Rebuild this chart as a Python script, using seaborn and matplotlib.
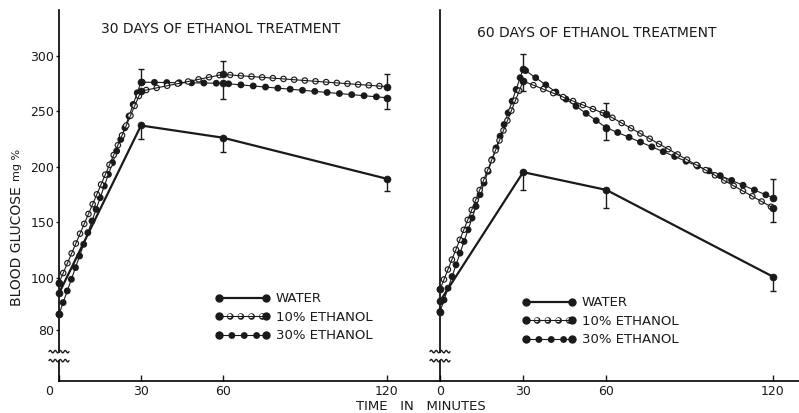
import numpy as np
import pandas as pd
import matplotlib
matplotlib.use("Agg")
import matplotlib.pyplot as plt
import matplotlib.transforms as mtransforms
from matplotlib.lines import Line2D
from matplotlib.patches import Rectangle
from matplotlib.legend_handler import HandlerTuple
import seaborn as sns

# ---------------- data ----------------
minutes = [0, 30, 60, 120]
x_tick_labels = ["0", "30", "60", "120"]
y_ticks = [80, 100, 150, 200, 250, 300]
groups = ["WATER", "10% ETHANOL", "30% ETHANOL"]
panel_titles = ["30 DAYS OF ETHANOL TREATMENT", "60 DAYS OF ETHANOL TREATMENT"]

# 30 days of treatment
water_30d = [94, 237, 226, 189]
eth10_30d = [98, 268, 283, 272]
eth30_30d = [86, 276, 275, 262]
water_30d_lo = [0, 12, 13, 11]
water_30d_up = [0, 0, 0, 0]
eth10_30d_lo = [0, 0, 0, 0]
eth10_30d_up = [0, 0, 12, 11]
eth30_30d_lo = [0, 0, 14, 10]
eth30_30d_up = [0, 12, 0, 0]

# 60 days of treatment
water_60d = [91, 195, 179, 101]
eth10_60d = [95.5, 277, 247, 163]
eth30_60d = [87, 288, 235, 172]
water_60d_lo = [0, 16, 16, 6]
water_60d_up = [0, 0, 0, 0]
eth10_60d_lo = [0, 9, 0, 13]
eth10_60d_up = [0, 0, 10, 0]
eth30_60d_lo = [0, 0, 11, 0]
eth30_60d_up = [0, 13, 0, 17]

# ---------------- style ----------------
sns.set_theme(style="white")
plt.rcParams["font.family"] = ["DejaVu Sans"]
plt.rcParams["axes.edgecolor"] = "black"
plt.rcParams["axes.linewidth"] = 1.2

K_STRETCH = 2.356  # axis below 100 is drawn stretched (broken axis)


def fwd(y):
    y = np.asarray(y, dtype=float)
    return np.where(y >= 100, y, 100 - (100 - y) * K_STRETCH)


def inv(u):
    u = np.asarray(u, dtype=float)
    return np.where(u >= 100, u, 100 - (100 - u) / K_STRETCH)


RING_LW, RING_PERIOD = 4.8, 7.7
RING_IN_LW = 3.1
TRI_LW, TRI_PERIOD = 5.0, 8.9
DOT = 0.01


def dots(lw, period):
    return (0, (DOT, period / lw - DOT))


W, H = 799, 413
fig = plt.figure(figsize=(W / 100, H / 100), dpi=100)
axL = fig.add_axes([59 / W, 32 / H, 381 / W, 371 / H])
axR = fig.add_axes([440 / W, 32 / H, 359 / W, 371 / H])


def draw_panel(ax, water, e10, e30, errs):
    df = pd.DataFrame({
        "minutes": minutes * 3,
        "glucose": water + e10 + e30,
        "group": np.repeat(groups, len(minutes)),
    })
    sub = {g: df[df["group"] == g] for g in groups}
    base = dict(x="minutes", y="glucose", ax=ax, errorbar=None,
                legend=False, clip_on=False, sort=False)
    # 30% ethanol: chain of filled symbols
    sns.lineplot(data=sub[groups[2]], color="k", lw=0.8, **base)
    sns.lineplot(data=sub[groups[2]], color="k", lw=TRI_LW,
                 linestyle=dots(TRI_LW, TRI_PERIOD), dash_capstyle="round", **base)
    # 10% ethanol: chain of open circles
    sns.lineplot(data=sub[groups[1]], color="k", lw=RING_LW,
                 linestyle=dots(RING_LW, RING_PERIOD), dash_capstyle="round", **base)
    sns.lineplot(data=sub[groups[1]], color="w", lw=RING_IN_LW,
                 linestyle=dots(RING_IN_LW, RING_PERIOD), dash_capstyle="round", **base)
    sns.lineplot(data=sub[groups[1]], color="k", lw=0.8, **base)
    # water: plain line
    sns.lineplot(data=sub[groups[0]], color="k", lw=1.6, **base)
    # error bars (one-sided)
    for vals, (lo, up) in zip([water, e10, e30], errs):
        lo = np.asarray(lo, float)
        up = np.asarray(up, float)
        m = (lo > 0) | (up > 0)
        ax.errorbar(np.asarray(minutes)[m], np.asarray(vals, float)[m],
                    yerr=[lo[m], up[m]], fmt="none", ecolor="k",
                    elinewidth=1.0, capsize=2.2, capthick=1.0, zorder=4,
                    clip_on=False)
    # filled data points
    sns.scatterplot(data=df, x="minutes", y="glucose", color="k",
                    edgecolor="k", linewidth=0.4, s=26, ax=ax, legend=False,
                    zorder=6, clip_on=False)
    ax.set_xlabel("")
    ax.set_ylabel("")


draw_panel(axL, water_30d, eth10_30d, eth30_30d,
           [(water_30d_lo, water_30d_up), (eth10_30d_lo, eth10_30d_up),
            (eth30_30d_lo, eth30_30d_up)])
draw_panel(axR, water_60d, eth10_60d, eth30_60d,
           [(water_60d_lo, water_60d_up), (eth10_60d_lo, eth10_60d_up),
            (eth30_60d_lo, eth30_60d_up)])

for ax, xmax in [(axL, 139.4), (axR, 129.5)]:
    ax.set_yscale("function", functions=(fwd, inv))
    ax.set_ylim(60.5, 341)
    ax.set_xlim(0, xmax)
    ax.set_xticks(minutes)
    ax.set_xticklabels(x_tick_labels)
    for s in ["top", "right"]:
        ax.spines[s].set_visible(False)
    ax.tick_params(axis="x", direction="in", length=4, width=1, labelsize=9,
                   pad=3, colors="k", bottom=True)
    ax.patch.set_alpha(0)

axL.set_yticks(y_ticks)
axL.set_yticklabels([str(v) for v in y_ticks])
axL.yaxis.set_minor_locator(matplotlib.ticker.NullLocator())
axL.tick_params(axis="y", direction="out", length=2.5, width=1, labelsize=9,
                pad=1, colors="k", left=True)
axR.set_yticks([])
axR.yaxis.set_minor_locator(matplotlib.ticker.NullLocator())
axR.tick_params(axis="y", left=False, labelleft=False)

# shift the left panel's "0" label left, as in the original
lbl0 = axL.xaxis.get_major_ticks()[0].label1
lbl0.set_transform(lbl0.get_transform() +
                   mtransforms.ScaledTranslation(-9.5 / 100, 0, fig.dpi_scale_trans))

# axis break marks
BREAK_Y = 70
for ax in (axL, axR):
    blend = mtransforms.blended_transform_factory(ax.transAxes, ax.transData)
    trans = fig.dpi_scale_trans + mtransforms.ScaledTranslation(0, BREAK_Y, blend)
    ax.add_patch(Rectangle((-0.025, -0.035), 0.05, 0.07, transform=trans,
                           facecolor="w", edgecolor="none", zorder=7, clip_on=False))
    xs = np.linspace(-0.10, 0.10, 80)
    for dy in (0.045, -0.045):
        ax.plot(xs, dy + 0.012 * np.sin(2 * np.pi * xs / 0.05), color="k",
                lw=1.0, transform=trans, clip_on=False, zorder=8)

# legends
h_water = Line2D([], [], color="k", lw=1.6, marker="o", ms=5.0, mec="k")
h_10 = (Line2D([], [], color="k", lw=RING_LW, linestyle=dots(RING_LW, RING_PERIOD),
               dash_capstyle="round"),
        Line2D([], [], color="w", lw=RING_IN_LW, linestyle=dots(RING_IN_LW, RING_PERIOD),
               dash_capstyle="round"),
        Line2D([], [], color="k", lw=0.8, marker="o", ms=5.0, mec="k"))
h_30 = (Line2D([], [], color="k", lw=TRI_LW, linestyle=dots(TRI_LW, TRI_PERIOD),
               dash_capstyle="round"),
        Line2D([], [], color="k", lw=0.8, marker="o", ms=5.0, mec="k"))
for ax, anchor in [(axL, (0.4108, 0.239)), (axR, (0.2284, 0.2283))]:
    leg = ax.legend([h_water, h_10, h_30], groups,
                    handler_map={tuple: HandlerTuple(ndivide=1, pad=0)},
                    loc="upper left", bbox_to_anchor=anchor, borderaxespad=0,
                    borderpad=0, frameon=False, fontsize=9.5, numpoints=2,
                    handlelength=4.1, handletextpad=0.45, labelspacing=0.42)
    for t in leg.get_texts():
        t.set_color("k")

# titles and axis labels
fig.text(221 / W, 1 - 29 / H, panel_titles[0], ha="center", va="center",
         fontsize=10, color="k")
fig.text(597 / W, 1 - 33 / H, panel_titles[1], ha="center", va="center",
         fontsize=10, color="k")
fig.text(17 / W, 1 - 246 / H, "BLOOD GLUCOSE", rotation=90, ha="center",
         va="center", fontsize=10, color="k")
fig.text(17 / W, 1 - 165 / H, "mg %", rotation=90, ha="center", va="center",
         fontsize=8, color="k")
fig.text(421 / W, 1 - 407 / H, "TIME   IN   MINUTES", ha="center", va="center",
         fontsize=9.5, color="k")

fig.savefig("out.png", dpi=100)
